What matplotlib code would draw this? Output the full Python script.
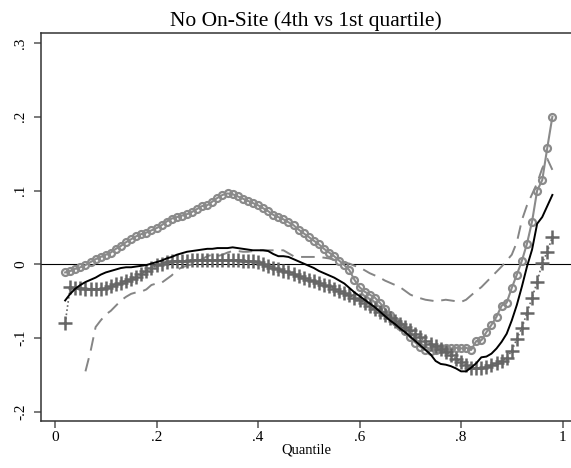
import numpy as np
import matplotlib
matplotlib.use("Agg")
import matplotlib.pyplot as plt

plt.rcParams['font.family'] = ['Liberation Serif', 'DejaVu Serif']

# Quantile grid
quantiles = [round(0.02 + 0.01 * i, 2) for i in range(97)]
quantiles_dash = quantiles[4:]  # dashed estimate starts at 0.06

# Estimated gaps (4th vs 1st quartile)
est_circle = [
    -0.011, -0.009, -0.006, -0.004, -0.001, 0.003, 0.007, 0.010, 0.013, 0.016,
    0.021, 0.025, 0.030, 0.034, 0.038, 0.041, 0.043, 0.046, 0.049, 0.053,
    0.058, 0.062, 0.064, 0.066, 0.068, 0.071, 0.075, 0.079, 0.080, 0.085,
    0.090, 0.094, 0.096, 0.095, 0.092, 0.089, 0.086, 0.083, 0.080, 0.076,
    0.072, 0.067, 0.064, 0.061, 0.057, 0.053, 0.047, 0.042, 0.037, 0.032,
    0.027, 0.021, 0.016, 0.011, 0.005, -0.001, -0.008, -0.021, -0.031, -0.037,
    -0.041, -0.045, -0.052, -0.060, -0.069, -0.077, -0.084, -0.091, -0.099, -0.106,
    -0.112, -0.116, -0.117, -0.116, -0.114, -0.113, -0.114, -0.113, -0.114, -0.113,
    -0.116, -0.104, -0.103, -0.092, -0.082, -0.071, -0.056, -0.052, -0.032, -0.014,
    0.005, 0.028, 0.058, 0.100, 0.114, 0.158, 0.200,
]

est_solid = [
    -0.049, -0.040, -0.033, -0.028, -0.024, -0.021, -0.018, -0.014, -0.011, -0.009,
    -0.007, -0.005, -0.004, -0.004, -0.003, -0.002, -0.001, 0.001, 0.003, 0.005,
    0.008, 0.010, 0.013, 0.015, 0.017, 0.018, 0.019, 0.020, 0.021, 0.021,
    0.022, 0.022, 0.022, 0.023, 0.022, 0.021, 0.020, 0.019, 0.019, 0.019,
    0.018, 0.014, 0.011, 0.011, 0.010, 0.007, 0.004, 0.001, -0.002, -0.005,
    -0.009, -0.012, -0.015, -0.018, -0.022, -0.026, -0.032, -0.038, -0.043, -0.048,
    -0.053, -0.058, -0.064, -0.070, -0.076, -0.081, -0.087, -0.092, -0.098, -0.104,
    -0.110, -0.116, -0.122, -0.131, -0.135, -0.136, -0.138, -0.141, -0.145, -0.145,
    -0.140, -0.134, -0.126, -0.125, -0.121, -0.114, -0.105, -0.094, -0.076, -0.055,
    -0.030, -0.003, 0.020, 0.055, 0.064, 0.079, 0.094,
]

est_dash = [
    -0.145, -0.118, -0.085, -0.076, -0.068, -0.063, -0.056, -0.049, -0.044, -0.040,
    -0.038, -0.037, -0.034, -0.028, -0.026, -0.025, -0.020, -0.015, -0.008, -0.004,
    -0.002, 0.000, 0.004, 0.007, 0.011, 0.013, 0.011, 0.013, 0.016, 0.018,
    0.018, 0.017, 0.017, 0.018, 0.019, 0.019, 0.019, 0.019, 0.019, 0.019,
    0.015, 0.011, 0.010, 0.010, 0.010, 0.010, 0.010, 0.009, 0.008, 0.006,
    0.004, 0.002, 0.001, -0.002, -0.004, -0.008, -0.012, -0.015, -0.018, -0.022,
    -0.025, -0.028, -0.031, -0.036, -0.041, -0.044, -0.046, -0.048, -0.049, -0.050,
    -0.049, -0.048, -0.049, -0.050, -0.051, -0.048, -0.042, -0.036, -0.031, -0.024,
    -0.017, -0.010, -0.003, 0.005, 0.013, 0.030, 0.060, 0.080, 0.095, 0.110,
    0.130, 0.143, 0.128,
]

est_plus = [
    -0.080, -0.031, -0.032, -0.032, -0.033, -0.033, -0.033, -0.033, -0.032, -0.030,
    -0.027, -0.025, -0.022, -0.020, -0.017, -0.013, -0.009, -0.005, -0.001, 0.001,
    0.003, 0.004, 0.005, 0.005, 0.005, 0.006, 0.006, 0.006, 0.006, 0.006,
    0.006, 0.006, 0.006, 0.006, 0.006, 0.005, 0.005, 0.004, 0.003, 0.001,
    -0.002, -0.005, -0.007, -0.009, -0.011, -0.013, -0.016, -0.019, -0.021, -0.023,
    -0.025, -0.028, -0.030, -0.033, -0.036, -0.039, -0.042, -0.045, -0.048, -0.052,
    -0.057, -0.061, -0.065, -0.069, -0.073, -0.077, -0.081, -0.085, -0.089, -0.094,
    -0.099, -0.104, -0.108, -0.111, -0.115, -0.119, -0.123, -0.128, -0.132, -0.137,
    -0.141, -0.141, -0.140, -0.139, -0.137, -0.134, -0.131, -0.127, -0.117, -0.101,
    -0.086, -0.066, -0.045, -0.024, 0.002, 0.017, 0.037,
]

x_ticks = [0, 0.2, 0.4, 0.6, 0.8, 1.0]
x_tick_labels = ["0", ".2", ".4", ".6", ".8", "1"]
y_ticks = [-0.2, -0.1, 0, 0.1, 0.2, 0.3]
y_tick_labels = ["-.2", "-.1", "0", ".1", ".2", ".3"]

fig = plt.figure(figsize=(5.71, 4.68), dpi=100)
ax = fig.add_axes([0.0718, 0.1004, 0.9282, 0.8291])

ax.axhline(0, color="black", lw=0.8, zorder=1)

ax.plot(quantiles_dash, est_dash, color="#858585", lw=1.4,
        dashes=(7, 4), zorder=2)
ax.plot(quantiles, est_circle, color="#8a8a8a", lw=1.5, marker="o",
        ms=5.0, mfc="none", mec="#8a8a8a", mew=1.6, zorder=3)
ax.plot(quantiles, est_plus, color="#676767", lw=1.2, ls=(0, (1, 1.5)),
        marker="+", ms=9.5, mew=1.8, mec="#666666", zorder=4)
ax.plot(quantiles, est_solid, color="black", lw=1.4, zorder=5)

ax.set_xlim(-0.0276, 1.0167)
ax.set_ylim(-0.2123, 0.3134)

ax.set_xticks(x_ticks)
ax.set_xticklabels(x_tick_labels, fontsize=11)
ax.set_yticks(y_ticks)
ax.set_yticklabels(y_tick_labels, fontsize=11, rotation=90, va="center")

ax.tick_params(axis="both", direction="out", length=5, width=1.1,
               color="#555555", pad=2)
ax.tick_params(axis="y", pad=5)

for side in ("left", "bottom", "top"):
    ax.spines[side].set_color("#333333")
    ax.spines[side].set_linewidth(1.1)
ax.spines["right"].set_visible(False)

ax.set_xlabel("Quantile", fontsize=10.5, labelpad=0)
ax.set_title("No On-Site (4th vs 1st quartile)", fontsize=15.5, pad=5)

fig.savefig("out.png", dpi=100)
